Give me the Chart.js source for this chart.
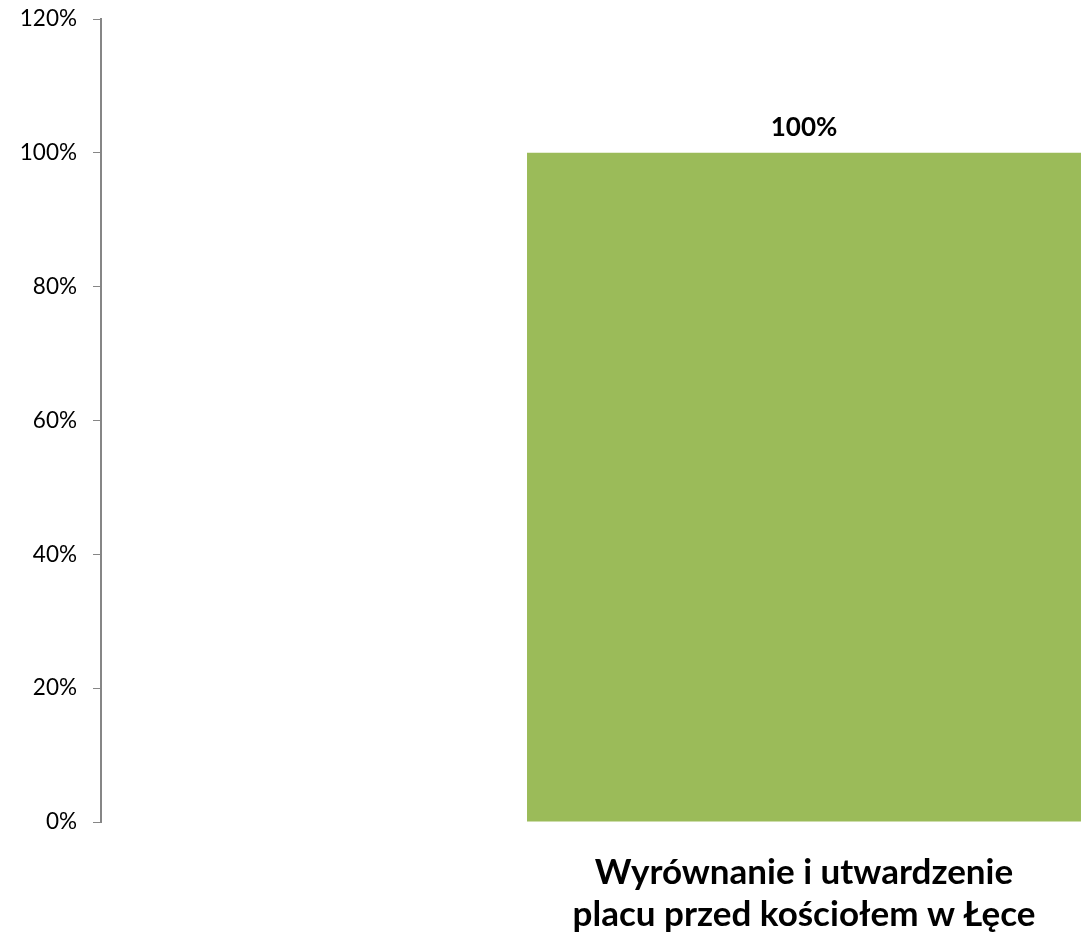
<!DOCTYPE html>
<html>
<head>
<meta charset="utf-8">
<script src="https://cdn.jsdelivr.net/npm/chart.js@4/dist/chart.umd.min.js"></script>
<style>
  html, body { margin: 0; padding: 0; background: #fff; overflow: hidden; }
  #wrap { width: 1081px; height: 935px; overflow: hidden; position: relative; }
  canvas { position: absolute; left: 0; top: 0; }
</style>
</head>
<body>
<div id="wrap"><canvas id="chart" width="1520" height="935"></canvas></div>
<script>
const categories = [['Wyrównanie i utwardzenie', 'placu przed kościołem w Łęce']];
const values = [100];
const yTicks = [0, 20, 40, 60, 80, 100, 120];

// draws "100%" above each bar
const barLabels = {
  id: 'barLabels',
  afterDatasetsDraw(chart) {
    const ctx = chart.ctx;
    const meta = chart.getDatasetMeta(0);
    ctx.save();
    ctx.font = 'bold 26px Lato, "Open Sans", sans-serif';
    ctx.fillStyle = '#000';
    ctx.textAlign = 'center';
    ctx.textBaseline = 'bottom';
    meta.data.forEach((bar, i) => {
      ctx.fillText(values[i] + '%', bar.x, bar.y - 12);
    });
    ctx.restore();
  },
};

new Chart(document.getElementById('chart'), {
  type: 'bar',
  data: {
    labels: categories,
    datasets: [{
      data: values,
      backgroundColor: '#9bbb59',
      categoryPercentage: 1,
      barPercentage: 0.394,
    }],
  },
  options: {
    responsive: false,
    animation: false,
    layout: { padding: { top: 19, right: 13, left: 0, bottom: 0 } },
    plugins: { legend: { display: false }, tooltip: { enabled: false } },
    scales: {
      x: {
        grid: { display: false },
        border: { display: false },
        afterFit(axis) { axis.height = 113; axis.paddingLeft = 0; axis.paddingRight = 0; },
        ticks: {
          color: '#000',
          padding: 22,
          font: { family: 'Lato, "Open Sans", sans-serif', size: 35, weight: 'bold', lineHeight: 1.2 },
        },
      },
      y: {
        min: 0,
        max: 120,
        afterBuildTicks(axis) { axis.ticks = yTicks.map(v => ({ value: v })); },
        afterFit(axis) { axis.width = 101; axis.paddingTop = 0; axis.paddingBottom = 0; },
        grid: { drawOnChartArea: false, tickLength: 8, color: '#868686' },
        border: { display: true, color: '#868686', width: 2 },
        ticks: {
          color: '#000',
          padding: 16,
          font: { family: 'Lato, "Open Sans", sans-serif', size: 22.5 },
          callback: v => v + '%',
        },
      },
    },
  },
  plugins: [barLabels],
});
</script>
</body>
</html>
